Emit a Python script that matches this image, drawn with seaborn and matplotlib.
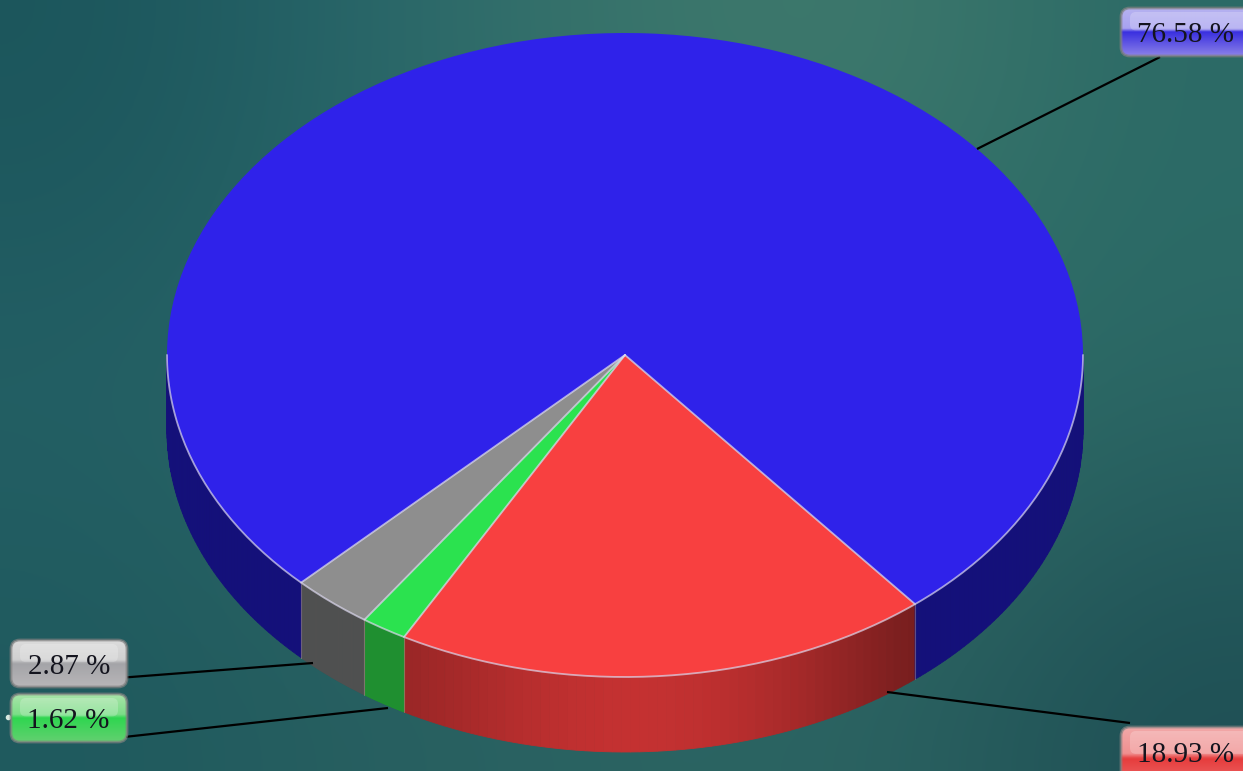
import numpy as np
import seaborn as sns
import matplotlib
matplotlib.use("Agg")
import matplotlib.pyplot as plt
from matplotlib.colors import to_rgb
from matplotlib.patches import FancyBboxPatch

# slices in drawing order, clockwise from the right edge of the red one
slice_labels = ["18.93 %", "1.62 %", "2.87 %", "76.58 %"]
slice_values = [18.93, 1.62, 2.87, 76.58]
top_colors = ["#f84040", "#2be24f", "#8e8e8e", "#2f22ea"]
wall_colors = ["#a82a2a", "#1f8f30", "#505050", "#14107a"]

W, H = 1243, 771
CX, CY, RX, RY = 625, 355, 458, 322
DEPTH = 75
START = -50.7

sns.set_theme(style="white")
fig = plt.figure(figsize=(W / 100, H / 100), dpi=100)


def full_axes(z):
    a = fig.add_axes([0, 0, 1, 1], zorder=z)
    a.patch.set_alpha(0)
    a.set_axis_off()
    return a


ax = full_axes(0)
ax_pie = full_axes(1)
ax_top = full_axes(2)


def rim(deg, drop=0):
    r = np.radians(deg)
    return CX + RX * np.cos(r), CY - RY * np.sin(r) + drop


# background
bg = np.array([
    ["#1c565c", "#28666a", "#3a756b", "#3f7a6d", "#2c6a66"],
    ["#1f5a60", "#2a6868", "#32706a", "#36746a", "#2b6a66"],
    ["#235f64", "#2b6767", "#2e6c68", "#327068", "#2a6664"],
    ["#215c61", "#2a6464", "#2e6a66", "#326c66", "#245a5c"],
    ["#1f5a5e", "#285f60", "#2a6362", "#2c6462", "#1f5055"],
])
bg_rgb = np.array([[to_rgb(c) for c in row] for row in bg])
ax.imshow(bg_rgb, extent=(0, W, H, 0), aspect="auto", interpolation="bicubic")
ax.set_xlim(0, W)
ax.set_ylim(H, 0)

# side wall, split by the same cumulative angles as the pie
edges = START - np.concatenate([[0], np.cumsum(slice_values)]) * 3.6
for k in range(len(slice_values)):
    hi, lo = edges[k], edges[k + 1]
    spans = [(hi, lo)]
    if hi - lo > 180:  # the large slice shows on both sides of the back
        spans = [(hi, -180), (0, START)]
    for a0, a1 in spans:
        steps = np.linspace(a0, a1, 61)
        for s0, s1 in zip(steps[:-1], steps[1:]):
            x0, y0 = rim(s0)
            x1, y1 = rim(s1)
            col = np.array(to_rgb(wall_colors[k]))
            if k == 0:
                t = (s0 - a1) / (a0 - a1)
                shade = 0.92 - 0.2 * t + 0.34 * np.sin(np.pi * t) ** 1.3
                col = np.clip(col * shade, 0, 1)
            ax.fill([x0, x1, x1, x0], [y0, y1, y1 + DEPTH, y0 + DEPTH],
                    color=col, lw=0.6, zorder=2)

# top face
ax_pie.pie(slice_values, colors=sns.color_palette(top_colors), startangle=START,
           counterclock=False, radius=1, center=(0, 0),
           wedgeprops={"edgecolor": "none", "linewidth": 0})
ax_pie.set_aspect("auto")
ax_pie.set_xlim(-CX / RX, (W - CX) / RX)
ax_pie.set_ylim((CY - H) / RY, CY / RY)
ax_pie.set_axis_off()

# light seams on the front rim and between slices
seam = "#dcd8ee"
front = np.linspace(0, -180, 200)
xr, yr = rim(front)
ax_top.plot(xr, yr, color=seam, lw=1.3, alpha=0.7)
for e in edges[:-1]:
    xe, ye = rim(e)
    ax_top.plot([CX, xe], [CY, ye], color=seam, lw=1.3, alpha=0.75)
    ax_top.plot([xe, xe], [ye, ye + DEPTH], color="#c8a8a0", lw=0.8, alpha=0.4)

# leader lines
leader_lines = [
    ((887, 692), (1130, 723)),
    ((388, 708), (115, 738)),
    ((313, 663), (118, 678)),
    ((977, 149), (1160, 57)),
]
for (xa, ya), (xb, yb) in leader_lines:
    ax_top.plot([xa, xb], [ya, yb], color="black", lw=1.6, solid_capstyle="butt")

# glossy labels
gloss = [
    ["#f2a8a8", "#f09090", "#e63c3c", "#f07070"],
    ["#a8e4a8", "#7cde88", "#2fd650", "#62d070"],
    ["#dcdcdc", "#d0d0d0", "#a4a4a8", "#b8b6b8"],
    ["#b6b2f0", "#a8a2f0", "#3a30e0", "#8a80e8"],
]
boxes = [
    (1121, 727, 1260, 790),
    (11, 694, 127, 742),
    (11, 640, 127, 687),
    (1121, 8, 1260, 56),
]
text_pos = [(1186, 755), (68, 721), (69, 667), (1186, 35)]
stops = [0, 0.42, 0.5, 1]
for lab, cols, (x0, y0, x1, y1), (tx, ty) in zip(slice_labels, gloss, boxes, text_pos):
    patch = FancyBboxPatch((x0 + 6, y0 + 6), x1 - x0 - 12, y1 - y0 - 12,
                           boxstyle="round,pad=6,rounding_size=9",
                           fc="none", ec="#808080", lw=2, alpha=0.7, zorder=4)
    ax_top.add_patch(patch)
    rows = np.linspace(0, 1, 48)
    rgb = np.array([to_rgb(c) for c in cols])
    grad = np.stack([np.interp(rows, stops, rgb[:, i]) for i in range(3)], axis=1)
    im = ax_top.imshow(grad[:, None, :], extent=(x0, x1, y1, y0), aspect="auto",
                       interpolation="bilinear", zorder=3)
    im.set_clip_path(patch)
    # soft highlight across the upper half
    ax_top.add_patch(FancyBboxPatch((x0 + 11, y0 + 6), x1 - x0 - 22, (y1 - y0) * 0.3,
                                    boxstyle="round,pad=2,rounding_size=6",
                                    fc="white", ec="none", alpha=0.22, zorder=4))
    ax_top.text(tx, ty, lab, family="Liberation Serif", fontsize=21, color="#14141e",
                ha="center", va="center", zorder=5)

ax_top.plot([8], [717], marker="o", ms=3, color="#d8e8e0", ls="none")

ax_top.set_xlim(0, W)
ax_top.set_ylim(H, 0)

fig.savefig("out.png", dpi=100)
